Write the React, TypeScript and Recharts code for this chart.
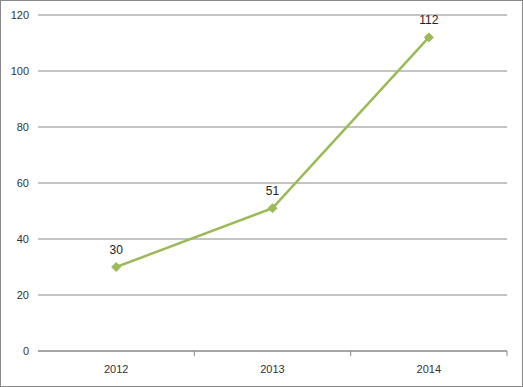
import { LineChart, Line, XAxis, YAxis, CartesianGrid, LabelList } from "recharts";

const years: string[] = ["2012", "2013", "2014"];
const values: number[] = [30, 51, 112];
const yTicks: number[] = [0, 20, 40, 60, 80, 100, 120];

const data = years.map((year, i) => ({ year, value: values[i] }));

const GREEN = "#9BBB59";
const GRAY = "#888888";
const FONT = "'Liberation Sans', Arial, sans-serif";
const TICK_SIZE = 6;
const TICK_MARGIN = 8;

const Diamond = (props: { cx?: number; cy?: number; index?: number }) => {
  const { cx, cy, index } = props;
  if (cx == null || cy == null) return null;
  const r = 4.5;
  return (
    <polygon
      key={`d-${index}`}
      points={`${cx},${cy - r} ${cx + r},${cy} ${cx},${cy + r} ${cx - r},${cy}`}
      fill={GREEN}
      stroke={GREEN}
    />
  );
};

// category label plus a small tick mark at the right edge of its band
const YearTick = (props: any) => {
  const { x, y, payload } = props;
  const axisY = y - TICK_SIZE - TICK_MARGIN;
  const edge = x + (payload?.offset ?? 0);
  return (
    <g>
      <line x1={edge} y1={axisY} x2={edge} y2={axisY + 5} stroke={GRAY} />
      <text
        x={x}
        y={y}
        dy="0.71em"
        textAnchor="middle"
        fill="#333"
        fontSize={11}
        fontFamily={FONT}
      >
        {payload.value}
      </text>
    </g>
  );
};

const App = () => {
  return (
    <div
      style={{
        width: 523,
        height: 387,
        border: "1px solid #888",
        boxSizing: "border-box",
        background: "#fff",
        fontFamily: FONT,
      }}
    >
      <style>{"body{margin:0}"}</style>
      <LineChart
        width={521}
        height={385}
        data={data}
        margin={{ top: 14, right: 15, left: 0, bottom: 0 }}
      >
        <CartesianGrid horizontal vertical={false} stroke={GRAY} strokeWidth={1} />
        <XAxis
          dataKey="year"
          scale="band"
          height={35}
          axisLine={{ stroke: GRAY }}
          tickLine={false}
          tickSize={TICK_SIZE}
          tickMargin={TICK_MARGIN}
          tick={<YearTick />}
        />
        <YAxis
          width={37}
          domain={[0, 120]}
          ticks={yTicks}
          axisLine={false}
          tickLine={false}
          tickMargin={3}
          tick={{ fill: "#333", fontSize: 11, fontFamily: FONT }}
        />
        <Line
          type="linear"
          dataKey="value"
          stroke={GREEN}
          strokeWidth={2.5}
          dot={<Diamond />}
          activeDot={false}
          isAnimationActive={false}
        >
          <LabelList
            dataKey="value"
            position="top"
            offset={13}
            fill="#222"
            fontSize={12}
            fontFamily={FONT}
          />
        </Line>
      </LineChart>
    </div>
  );
};

export default App;
